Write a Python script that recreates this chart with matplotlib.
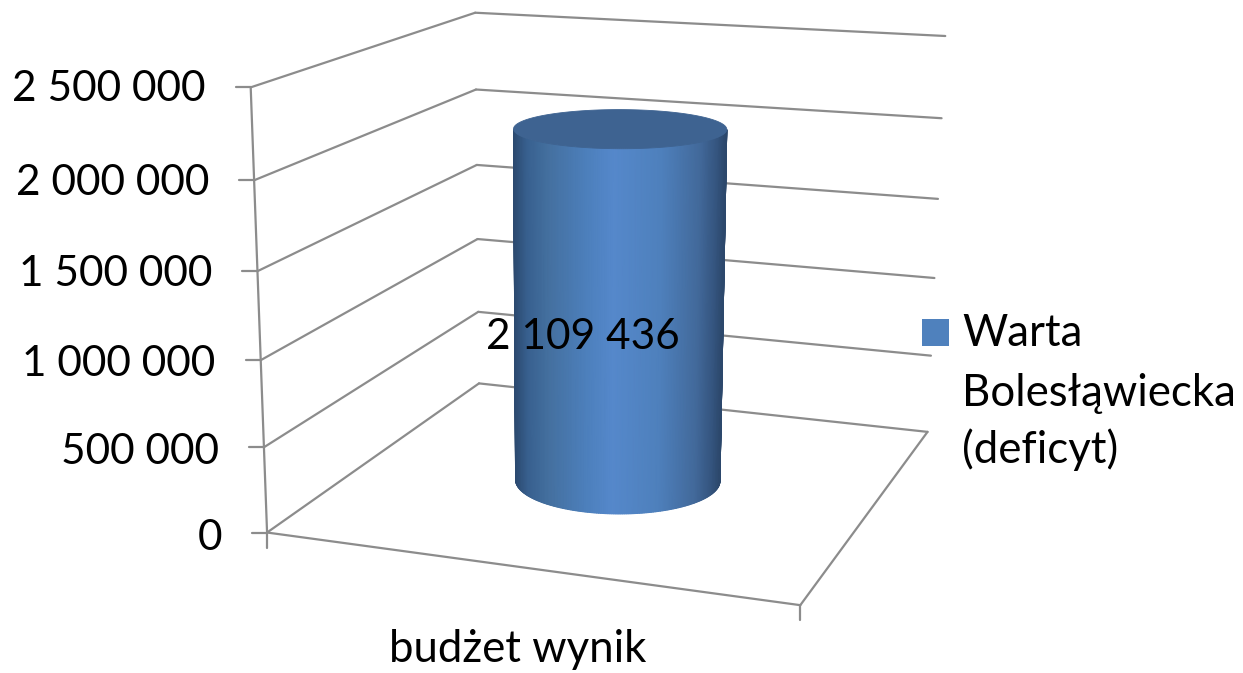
import numpy as np
import matplotlib
matplotlib.use("Agg")
import matplotlib.pyplot as plt
from matplotlib.colors import LinearSegmentedColormap
from matplotlib.patches import Polygon, Rectangle

plt.rcParams['font.family'] = ['Lato', 'DejaVu Sans']

# data
categories = ['budżet wynik']
series_name = 'Warta\nBolesłąwiecka\n(deficyt)'
values = [2109436]
value_ticks = [0, 500000, 1000000, 1500000, 2000000, 2500000]
tick_labels = ['0', '500 000', '1 000 000', '1 500 000', '2 000 000', '2 500 000']
v_max = value_ticks[-1]

W, H = 1243, 673
GRID = '#8c8c8c'
NUM_SIZE = 30.5
TXT_SIZE = 31.5

# box corners (x, value, depth) -> pixel, used to fit the 3D camera
box_world = [(0, 0, 0), (1, 0, 0), (0, 0, 1), (1, 0, 1), (0, 1, 0), (0, 1, 1), (1, 1, 1)]
box_pixel = [(268, 533), (800, 605), (478, 383), (928, 432), (250, 87), (476, 13), (945, 36)]


def fit_camera(world, pixel):
    rows = []
    for (x, y, z), (u, v) in zip(world, pixel):
        rows.append([x, y, z, 1, 0, 0, 0, 0, -u*x, -u*y, -u*z, -u])
        rows.append([0, 0, 0, 0, x, y, z, 1, -v*x, -v*y, -v*z, -v])
    return np.linalg.svd(np.array(rows))[2][-1].reshape(3, 4)


P = fit_camera(box_world, box_pixel)


def project(x, val, d):
    x, val, d = np.broadcast_arrays(x, np.asarray(val) / v_max, d)
    pts = np.stack([x, val, d, np.ones_like(x, dtype=float)])
    a, b, c = P @ pts
    return a / c, b / c


fig = plt.figure(figsize=(W / 100, H / 100), dpi=100)
ax = fig.add_axes([0, 0, 1, 1])
ax.set_xlim(0, W)
ax.set_ylim(H, 0)
ax.axis('off')


def seg(p0, p1, **kw):
    ax.plot([p0[0], p1[0]], [p0[1], p1[1]], color=GRID, lw=1.6,
            solid_capstyle='round', zorder=1, **kw)


# walls, floor and value axis
for val, lab in zip(value_ticks, tick_labels):
    front = project(0, val, 0)
    back = project(0, val, 1)
    right = project(1, val, 1)
    seg(front, back)
    seg(back, right)
    seg((front[0] - 15, front[1]), front)
    # labels sit a little lower than their ticks towards the bottom
    label_y = front[1] + 2 + 3 * (1 - val / v_max)
    ax.text(front[0] - 45, label_y, lab, ha='right', va='center', fontsize=NUM_SIZE, color='black')

seg(project(0, 0, 0), project(0, v_max, 0))
seg(project(0, 0, 0), project(1, 0, 0))
seg(project(1, 0, 0), project(1, 0, 1))
for cx in (0, 1):
    p = project(cx, 0, 0)
    seg(p, (p[0], p[1] + 15))

# cylinder
blue_map = LinearSegmentedColormap.from_list('cyl', [
    (0.0, '#2c4a70'), (0.06, '#38608f'), (0.16, '#44709f'), (0.35, '#4d80bd'),
    (0.47, '#5588cb'), (0.70, '#4e80bc'), (0.88, '#42699a'), (0.96, '#34547e'), (1.0, '#2c486c')])
theta = np.linspace(0, 2 * np.pi, 361)
rx, rd = 0.198, 0.197
ring_x = 0.5 + rx * np.cos(theta)
ring_d = 0.5 + rd * np.sin(theta)

for xi, val in zip(categories, values):
    bx, by = project(ring_x, 0, ring_d)
    tx, ty = project(ring_x, val, ring_d)
    i0, i1 = sorted([int(np.argmin(bx)), int(np.argmax(bx))])
    # front half of the ring is the part lower on the screen
    arc = np.arange(i0, i1 + 1)
    if by[arc].mean() < by.mean():
        arc = np.r_[np.arange(i1, len(bx) - 1), np.arange(0, i0 + 1)]
    X = np.vstack([bx[arc], tx[arc]])
    Y = np.vstack([by[arc], ty[arc]])
    shade = (X - X.min(axis=1, keepdims=True)) / np.ptp(X, axis=1, keepdims=True)
    ax.pcolormesh(X, Y, shade, cmap=blue_map, vmin=0, vmax=1, shading='gouraud', zorder=2)
    ax.add_patch(Polygon(np.c_[tx, ty], closed=True, fc='#3e6391', ec='#3e6391', lw=0.6, zorder=3))
    # value label
    ax.text(583, 337, f'{val:,}'.replace(',', ' '), ha='center', va='center',
            fontsize=NUM_SIZE, color='black', zorder=4)

# category label
ax.text(518, 650, categories[0], ha='center', va='center', fontsize=TXT_SIZE, color='black')

# legend
ax.add_patch(Rectangle((922, 319), 27, 27, fc='#4f81bd', ec='none'))
for line, yy in zip(series_name.split('\n'), (333, 393, 450)):
    ax.text(962, yy, line, ha='left', va='center', fontsize=TXT_SIZE, color='black')

fig.savefig('out.png', dpi=100)
